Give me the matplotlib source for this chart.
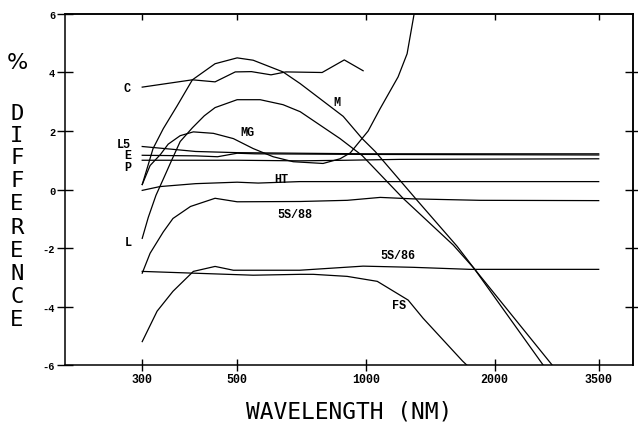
import matplotlib
matplotlib.use('Agg')
import matplotlib.pyplot as plt
from matplotlib.ticker import NullLocator

plt.rcParams['axes.unicode_minus'] = False

# values: wavelength (nm) vs % difference
wl_c = [300, 393, 444, 495, 540, 600, 650, 790, 890, 985]
pct_c = [3.5, 3.75, 3.68, 4.02, 4.03, 3.92, 4.02, 4.0, 4.43, 4.06]

wl_m = [300, 308, 318, 336, 362, 393, 444, 500, 545, 640, 702, 885, 980, 1051, 1317, 1633, 1790, 2724]
pct_m = [0.17, 0.72, 1.4, 2.08, 2.86, 3.75, 4.3, 4.5, 4.42, 4.02, 3.62, 2.5, 1.74, 1.3, -0.37, -1.94, -2.7, -6.0]

wl_l = [300, 310, 323, 338, 353, 368, 393, 419, 444, 500, 566, 640, 702, 870, 980, 1221, 1600, 1790, 2595]
pct_l = [-1.67, -0.95, -0.2, 0.44, 1.06, 1.64, 2.11, 2.52, 2.8, 3.07, 3.07, 2.9, 2.66, 1.74, 1.16, -0.3, -1.9, -2.7, -6.0]

wl_mg = [300, 313, 331, 345, 368, 395, 440, 490, 545, 607, 676, 794, 870, 919, 1012, 1079, 1189, 1248, 1296]
pct_mg = [0.17, 0.82, 1.2, 1.55, 1.84, 1.97, 1.92, 1.74, 1.4, 1.12, 0.95, 0.89, 1.05, 1.25, 2.0, 2.76, 3.85, 4.64, 6.0]

wl_ls = [300, 350, 400, 500, 700, 1000, 2000, 3500]
pct_ls = [1.47, 1.38, 1.3, 1.26, 1.24, 1.22, 1.22, 1.22]

wl_e = [300, 400, 450, 500, 550, 1000, 3500]
pct_e = [1.17, 1.15, 1.12, 1.24, 1.22, 1.2, 1.18]

wl_p = [300, 500, 700, 900, 1200, 3500]
pct_p = [1.0, 1.0, 0.98, 1.0, 1.03, 1.05]

wl_ht = [300, 330, 400, 500, 560, 700, 1000, 3500]
pct_ht = [-0.03, 0.1, 0.2, 0.25, 0.22, 0.27, 0.27, 0.27]

wl_88 = [300, 313, 336, 354, 389, 444, 500, 702, 904, 1080, 1287, 1848, 3500]
pct_88 = [-2.86, -2.18, -1.45, -0.99, -0.58, -0.3, -0.42, -0.41, -0.37, -0.27, -0.32, -0.37, -0.38]

wl_86 = [300, 325, 354, 395, 444, 490, 700, 985, 1287, 1752, 3500]
pct_86 = [-5.2, -4.16, -3.48, -2.8, -2.63, -2.76, -2.76, -2.62, -2.66, -2.73, -2.73]

wl_fs = [300, 395, 545, 702, 753, 904, 1063, 1255, 1360, 1600, 1681, 1720]
pct_fs = [-2.8, -2.86, -2.93, -2.9, -2.9, -2.97, -3.14, -3.78, -4.4, -5.52, -5.86, -6.0]

xtick_vals = [300, 500, 1000, 2000, 3500]
xtick_labels = ['300', '500', '1000', '2000', '3500']
ytick_vals = [-6, -4, -2, 0, 2, 4, 6]

curve_names = ['C', 'L5', 'E', 'P', 'MG', 'HT', '5S/88', 'L', 'M', '5S/86', 'FS']

fig = plt.figure(figsize=(6.38, 4.31), dpi=100)
ax = fig.add_axes([0.1019, 0.1508, 0.8903, 0.8144])
ax.set_xscale('log')
ax.set_xlim(198, 4210)
ax.set_ylim(-6, 6)

curves = [(wl_c, pct_c), (wl_m, pct_m), (wl_l, pct_l), (wl_mg, pct_mg),
          (wl_ls, pct_ls), (wl_e, pct_e), (wl_p, pct_p), (wl_ht, pct_ht),
          (wl_88, pct_88), (wl_86, pct_86), (wl_fs, pct_fs)]
for wl, pct in curves:
    ax.plot(wl, pct, color='black', lw=0.9)

# curve labels, placed where the original has them
label_pos = [(277, 3.48), (271, 1.57), (277, 1.19), (277, 0.78), (528, 1.98),
             (634, 0.375), (683, -0.85), (278, -1.81), (856, 3.0), (1189, -2.25), (1195, -3.95)]
for name, (lx, ly) in zip(curve_names, label_pos):
    ax.text(lx, ly, name, ha='center', va='center', fontsize=8.5,
            family='Liberation Mono', weight='bold')

ax.set_xticks(xtick_vals)
ax.set_xticklabels(xtick_labels)
ax.xaxis.set_minor_locator(NullLocator())
ax.set_yticks(ytick_vals)
ax.tick_params(axis='x', direction='inout', length=8, width=1, pad=2, labelsize=8.4)
ax.tick_params(axis='y', direction='inout', length=12, width=1, pad=1, labelsize=7.5)
for lbl in ax.get_xticklabels() + ax.get_yticklabels():
    lbl.set_family('Liberation Mono')
    lbl.set_weight('bold')

top = ax.secondary_xaxis('top')
top.set_xticks(xtick_vals)
top.xaxis.set_minor_locator(NullLocator())
top.tick_params(direction='in', length=4.5, width=1, labeltop=False)

right = ax.secondary_yaxis('right')
right.set_yticks([-4, -2, 0, 2, 4])
right.tick_params(direction='inout', length=11, width=1, labelright=False)

for sp in list(ax.spines.values()) + list(top.spines.values()) + list(right.spines.values()):
    sp.set_linewidth(1.1)

# stacked y label and x label
fig.text(17 / 638, 1 - 63 / 431, '%', fontsize=16, ha='center', va='center', family='DejaVu Sans')
for ch, yc in zip('DIFFERENCE', [114, 136, 158, 181, 204, 228, 251, 274, 297, 320]):
    fig.text(17 / 638, 1 - yc / 431, ch, fontsize=16, ha='center', va='center', family='DejaVu Sans Mono')
fig.text(349 / 638, 1 - 412 / 431, 'WAVELENGTH (NM)', fontsize=16.5, ha='center', va='center',
         family='DejaVu Sans Mono')

fig.savefig('out.png', dpi=100)
